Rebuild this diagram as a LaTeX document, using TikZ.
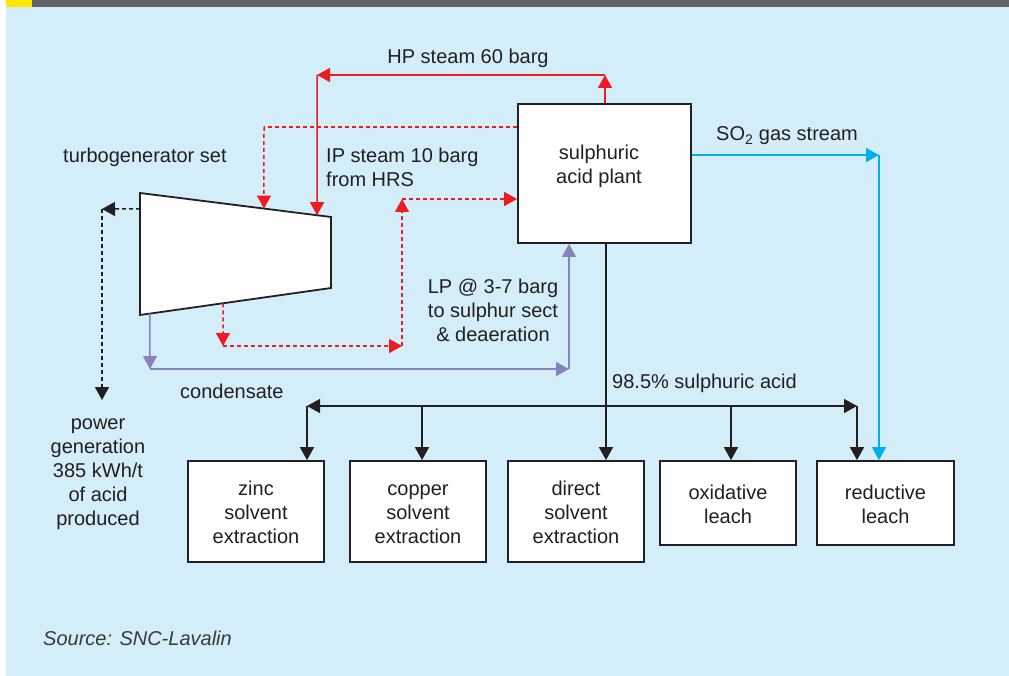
\documentclass[tikz,border=0pt]{standalone}
\usepackage{fontspec}
\setmainfont{Liberation Sans}
\usetikzlibrary{arrows.meta,calc}

\definecolor{ink}{HTML}{231F20}
\definecolor{steamred}{HTML}{ED1C24}
\definecolor{gasblue}{HTML}{00AEEF}
\definecolor{condpurple}{HTML}{8781BD}
\definecolor{paleblue}{HTML}{D3EEF9}
\definecolor{bargray}{HTML}{636466}
\definecolor{baryellow}{HTML}{FFE600}
\definecolor{srcgray}{HTML}{3A3A3A}

\begin{document}
\begin{tikzpicture}[x=1pt,y=-1pt,
  every node/.style={font=\fontsize{20}{24}\selectfont, text=ink, inner sep=0pt},
  box/.style={draw=ink, line width=1.8pt, fill=white},
  tip/.style={-{Triangle[length=13pt,width=14pt]}},
  hp/.style={draw=steamred, line width=1.5pt},
  ip/.style={hp, dash pattern=on 4pt off 3pt},
  cond/.style={draw=condpurple, line width=1.5pt},
  gas/.style={draw=gasblue, line width=1.5pt},
  acidln/.style={draw=ink, line width=1.5pt},
  power/.style={acidln, dash pattern=on 4pt off 3pt}]
\useasboundingbox (0,0) rectangle (1009,676);
\fill[paleblue] (6,7) rectangle (1009,676);
\fill[bargray] (32,0) rectangle (1009,7);
\fill[baryellow] (6,0) rectangle (32,7);

% plant and consumers
\node[box, minimum width=173pt, minimum height=139pt] (acid) at (604.5,173.5) {};
\node[align=center] (acidtxt) at (599,166) {sulphuric\\acid plant};
\node[box, minimum width=136pt, minimum height=101pt, align=center] (zinc) at (256,511.5) {\strut zinc\\solvent\\extraction};
\node[box, minimum width=136pt, minimum height=101pt, align=center] (copper) at (418,511.5) {\strut copper\\solvent\\extraction};
\node[box, minimum width=136pt, minimum height=101pt, align=center] (direct) at (576,511.5) {\strut direct\\solvent\\extraction};
\node[box, minimum width=136pt, minimum height=84pt, align=center] (oxid) at (728,503) {\strut oxidative\\leach};
\node[box, minimum width=137pt, minimum height=84pt, align=center] (reduct) at (885.5,503) {\strut reductive\\leach};

% turbogenerator
\draw[box, line join=miter] (140,193) coordinate (t1) -- (331,217) coordinate (t2)
  -- (331,288) coordinate (t3) -- (140,315) coordinate (t4) -- cycle;
\coordinate (hpIn) at ($(t1)!.927!(t2)$);
\coordinate (ipIn) at ($(t1)!.649!(t2)$);
\coordinate (lpOut) at ($(t4)!.435!(t3)$);
\coordinate (cdOut) at ($(t4)!.052!(t3)$);
\coordinate (pwOut) at ($(t1)!.131!(t4)$);

% HP steam
\coordinate (hpA) at (605,75);
\coordinate (hpB) at (317,75);
\draw[hp, tip] (acid.north -| hpA) -- (hpA);
\draw[hp, tip] (hpA) -- (hpB);
\draw[hp, tip] (hpB) -- (hpIn);

% IP steam
\coordinate (ipA) at (264,127);
\draw[ip] (acid.west |- ipA) -- (ipA);
\draw[ip, tip] (ipA) -- (ipIn);

% LP steam
\coordinate (lpA) at (223,346);
\coordinate (lpB) at (402,346);
\coordinate (lpC) at (402,199);
\draw[ip, tip] (lpOut) -- (lpA);
\draw[ip, tip] (lpA) -- (lpB);
\draw[ip, tip] (lpB) -- (lpC);
\draw[ip, tip] (lpC) -- (acid.west |- lpC);

% condensate
\coordinate (cdA) at (150,369);
\coordinate (cdB) at (569,369);
\draw[cond, tip] (cdOut) -- (cdA);
\draw[cond, tip] (cdA) -- (cdB);
\draw[cond, tip] (cdB) -- (acid.south -| cdB);

% power
\coordinate (pwA) at (102,209);
\coordinate (pwB) at (102,400);
\draw[power, tip] (pwOut) -- (pwA);
\draw[power, tip] (pwA) -- (pwB);

% SO2
\coordinate (soA) at (879,155);
\draw[gas, tip] (acid.east |- soA) -- (soA);
\draw[gas, tip] (soA) -- (reduct.north -| soA);

% acid distribution
\coordinate (acA) at (606,406);
\coordinate (acL) at (307,406);
\coordinate (acR) at (857,406);
\coordinate (acCu) at (422,406);
\coordinate (acOx) at (731,406);
\draw[acidln, tip] (acid.south -| acA) -- (direct.north -| acA);
\draw[acidln, tip] (acA) -- (acL);
\draw[acidln, tip] (acA) -- (acR);
\draw[acidln, tip] (acL) -- (zinc.north -| acL);
\draw[acidln, tip] (acCu) -- (copper.north -| acCu);
\draw[acidln, tip] (acOx) -- (oxid.north -| acOx);
\draw[acidln, tip] (acR) -- (reduct.north -| acR);

% labels
\node[anchor=base] (hplbl) at (468,64) {HP steam 60 barg};
\node[anchor=west, align=left] (iplbl) at (326,167) {IP steam 10 barg\\from HRS};
\node[anchor=base west] (tglbl) at (63,163) {turbogenerator set};
\node[anchor=base west] (solbl) at (716,141) {SO\textsubscript{2} gas stream};
\node[align=center] (lplbl) at (493,310) {LP @ 3-7 barg\\to sulphur sect\\\& deaeration};
\node[anchor=base west] (cdlbl) at (180,398) {condensate};
\node[anchor=base west] (aclbl) at (612,388) {98.5\% sulphuric acid};
\node[align=center] (pwlbl) at (98,474) {power\\generation\\385 kWh/t\\of acid\\produced};
\node[anchor=base west, font=\fontsize{20}{24}\selectfont\itshape, text=srcgray] (src) at (43,645) {Source: SNC-Lavalin};
\end{tikzpicture}
\end{document}
